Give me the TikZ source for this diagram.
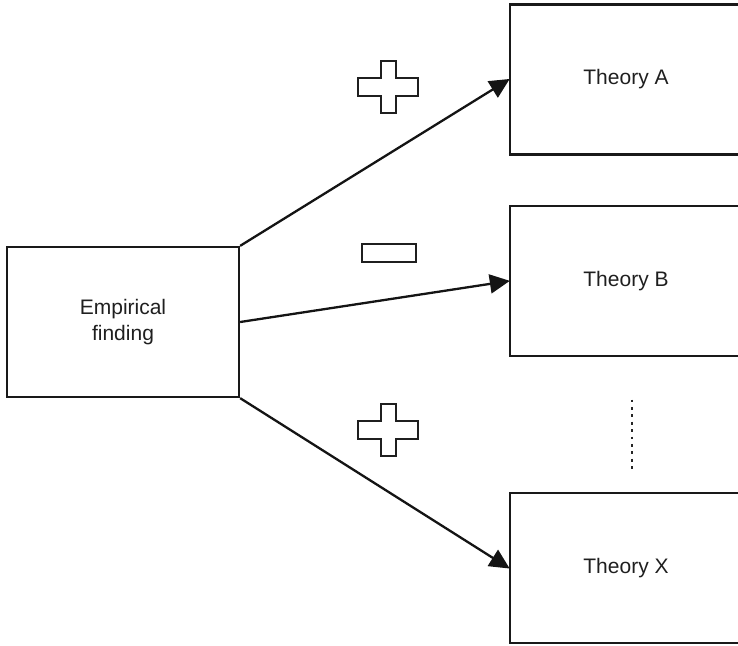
\documentclass[tikz,border=0pt]{standalone}
\usepackage{fontspec}
\setmainfont{Liberation Sans}
\usetikzlibrary{arrows.meta}

\tikzset{
  box/.style={draw=black!90, line width=2.3pt, rectangle, minimum width=232pt,
    minimum height=150pt, align=center, font=\fontsize{21}{26.5}\selectfont,
    text=black!88, inner sep=0pt},
  link/.style={draw=black!92, line width=2.3pt,
    -{Triangle[length=20pt,width=19pt]}, shorten >=-1pt},
  signline/.style={draw=black!88, line width=2pt, fill=white, line join=miter},
  pics/plussign/.style={code={
    \draw[signline] (-7.5,-26) -- (7.5,-26) -- (7.5,-9) -- (30,-9) -- (30,9)
      -- (7.5,9) -- (7.5,26) -- (-7.5,26) -- (-7.5,9) -- (-30,9) -- (-30,-9)
      -- (-7.5,-9) -- cycle;
  }}
}

\begin{document}
\begin{tikzpicture}[x=1pt,y=-1pt]
  \useasboundingbox (0,0) rectangle (738,645);
  \clip (0,0) rectangle (738,645);

  % boxes
  \node[box] (emp) at (123,322) {Empirical\\finding};
  \node[box] (thA) at (626,79.5) {Theory A};
  \node[box] (thB) at (626,281) {Theory B};
  \node[box] (thX) at (626,568) {Theory X};

  % connectors
  \draw[link] (emp.north east) -- (thA.west);
  \draw[link] (emp.east) -- (thB.west);
  \draw[link] (emp.south east) -- (thX.west);

  % signs
  \pic at (388,87) {plussign};
  \pic at (388,430) {plussign};
  \draw[signline] (361.5,243.5) rectangle (415.5,262);

  % ellipsis between Theory B and Theory X
  \coordinate (dotsTop) at (632,399.5);
  \coordinate (dotsBot) at (632,470);
  \draw[black!85, line width=2.8pt, dash pattern=on 2.8pt off 4.6pt] (dotsTop) -- (dotsBot);
\end{tikzpicture}
\end{document}
